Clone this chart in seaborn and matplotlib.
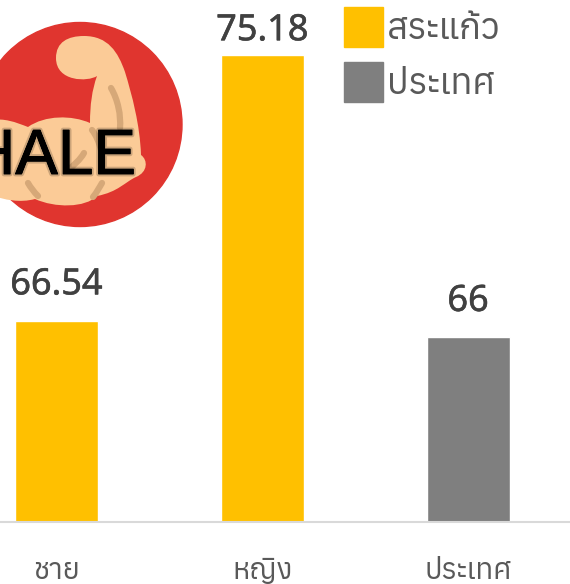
import pandas as pd
import matplotlib
matplotlib.use("Agg")
import matplotlib.pyplot as plt
import matplotlib.patheffects as pe
from matplotlib import font_manager as fm
from matplotlib.font_manager import get_font
from matplotlib.patches import Circle, PathPatch, Patch
from matplotlib.path import Path
import seaborn as sns

CATEGORIES = ["ชาย", "หญิง", "ประเทศ"]
VALUES = [66.54, 75.18, 66]
VALUE_LABELS = ["66.54", "75.18", "66"]
GROUPS = ["สระแก้ว", "สระแก้ว", "ประเทศ"]
PALETTE = {"สระแก้ว": "#FFC000", "ประเทศ": "#7F7F7F"}
BADGE_TEXT = "HALE"

sns.set_theme(style="white")

# look for an installed family that covers Thai
thai_fonts = []
for entry in fm.fontManager.ttflist:
    try:
        if 0x0E01 in get_font(entry.fname).get_charmap():
            thai_fonts.append(entry.name)
    except Exception:
        pass
thai = sorted(set(thai_fonts))
plt.rcParams["font.family"] = (thai[:1] + ["Noto Sans", "DejaVu Sans"])

df = pd.DataFrame({"category": CATEGORIES, "value": VALUES, "group": GROUPS})

fig = plt.figure(figsize=(5.70, 5.84), dpi=100)
ax = fig.add_axes([0, 62 / 584, 1, 522 / 584])

sns.barplot(
    data=df, x="category", y="value", hue="group", palette=PALETTE,
    dodge=False, width=0.403, saturation=1, legend=False, ax=ax
)
ax.set_xlim(-0.275, 2.495)
ax.set_ylim(60, 76.97)
ax.set_xlabel("")
ax.set_ylabel("")
ax.set_yticks([])
sns.despine(ax=ax, left=True)
ax.spines["bottom"].set_color("#D9D9D9")
ax.spines["bottom"].set_linewidth(1.5)
ax.tick_params(axis="x", length=0, pad=25, labelsize=21, labelcolor="#595959")

for x, (value, label) in enumerate(zip(VALUES, VALUE_LABELS)):
    # the tallest bar's label sits closer to its bar in the original
    offset = 4.2 if value == max(VALUES) else 12.6
    ax.annotate(
        label, (x, value), xytext=(0, offset), textcoords="offset points",
        ha="center", va="bottom", fontsize=26, color="#404040",
        family=["Noto Sans", "DejaVu Sans"],
        path_effects=[pe.withStroke(linewidth=0.4, foreground="#404040")]
    )

handles = [Patch(color=PALETTE[g]) for g in PALETTE]
ax.legend(
    handles, list(PALETTE), loc="upper left",
    bbox_to_anchor=(344 / 570, 1 - 7 / 522),
    frameon=False, fontsize=26, labelcolor="#595959", borderpad=0,
    borderaxespad=0, handlelength=1.09, handleheight=1.327, handletextpad=0.1,
    labelspacing=0.415
)

# badge drawn in pixel space on top of the chart
badge = fig.add_axes([0, 0, 1, 1], zorder=5)
badge.set_xlim(0, 570)
badge.set_ylim(584, 0)
badge.axis("off")
badge.add_patch(Circle((80, 124.5), 102, color="#E0352F"))

M, L, C = Path.MOVETO, Path.LINETO, Path.CURVE4
arm = [
    ((56, 58), M),
    ((56, 42), C), ((68, 36), C), ((84, 36), C),
    ((108, 36), C), ((118, 52), C), ((125, 72), C),
    ((132, 95), C), ((140, 125), C), ((141, 155), C),
    ((148, 160), C), ((148, 172), C), ((136, 177), C),
    ((125, 182), C), ((118, 192), C), ((97, 196), C),
    ((85, 208), C), ((55, 208), C), ((35, 199), C),
    ((20, 203), C), ((5, 200), C), ((-10, 195), C),
    ((-10, 120), L),
    ((5, 118), C), ((15, 122), C), ((28, 127), C),
    ((45, 115), C), ((72, 115), C), ((90, 123), C),
    ((90, 105), C), ((92, 90), C), ((97, 76), C),
    ((88, 82), C), ((56, 82), C), ((56, 58), C),
]
badge.add_patch(PathPatch(
    Path([p for p, _ in arm], [c for _, c in arm]), fc="#FBCB97", ec="none"
))
for seg in [
    [(111, 88), (118, 100), (121, 115), (120, 128)],
    [(92, 130), (96, 135), (99, 142), (101, 150)],
    [(28, 183), (31, 188), (34, 192), (38, 196)],
    [(102, 183), (99, 188), (97, 192), (93, 197)],
    [(68, 170), (74, 165), (80, 160), (84, 153)],
]:
    badge.add_patch(PathPatch(
        Path(seg, [M, C, C, C]), fc="none", ec="#D6A878", lw=4.5, capstyle="round"
    ))
badge.text(
    136, 174, BADGE_TEXT, ha="right", va="baseline", fontsize=46, color="black",
    family="Liberation Sans",
    path_effects=[
        pe.withStroke(linewidth=3.5, foreground="#00000030"),
        pe.Stroke(linewidth=0.7, foreground="black"),
        pe.Normal(),
    ]
)

fig.savefig("out.png", dpi=100)
